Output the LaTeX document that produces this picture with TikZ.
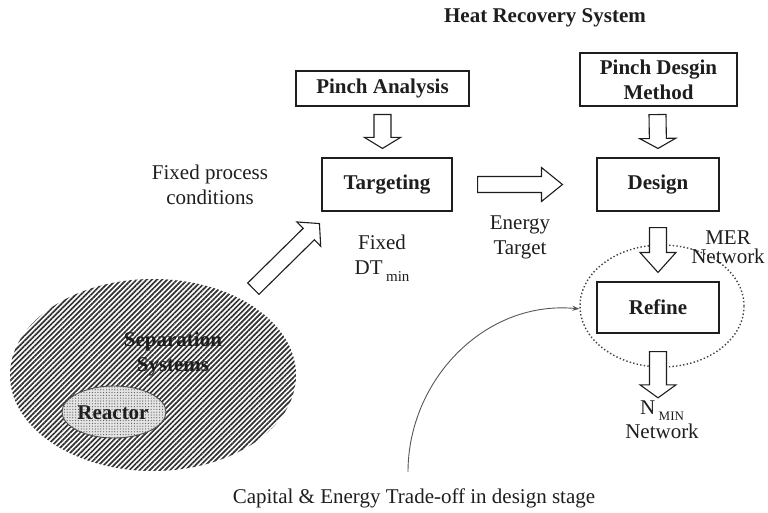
\documentclass[tikz,border=0pt]{standalone}
\usepackage{fontspec}
\setmainfont{Liberation Serif}
\usetikzlibrary{calc,patterns.meta,arrows.meta,shapes.geometric}

\definecolor{ink}{HTML}{1E1E1E}

% Hollow block arrow from tail #1 to tip #2:
% #3 shaft half width, #4 head half width, #5 head length
\newcommand\blockarrow[5]{%
  \path ($(#2)!#5!(#1)$) coordinate (ba@base);
  \draw[blockline]
    ($(#1)!#3!90:(#2)$) -- ($(ba@base)!#3!90:(#2)$) --
    ($(ba@base)!#4!90:(#2)$) -- (#2) --
    ($(ba@base)!#4!-90:(#2)$) -- ($(ba@base)!#3!-90:(#2)$) --
    ($(#1)!#3!-90:(#2)$) -- cycle;
}

\begin{document}
\begin{tikzpicture}[x=1pt,y=-1pt,
  every node/.style={text=ink},
  txt/.style={font=\fontsize{21}{25}\selectfont, align=center, inner sep=0pt},
  boxtxt/.style={font=\fontsize{21}{25}\selectfont\bfseries, align=center, inner sep=0pt},
  box/.style={boxtxt, draw=ink, line width=1.1pt},
  blockline/.style={draw=ink, line width=1.1pt, fill=white, line join=miter},
]
\useasboundingbox (0,0) rectangle (768,513);

% title
\node[boxtxt] (title) at (545,18) {Heat Recovery System};

% separation systems with the reactor inside
\node[ellipse, minimum width=286pt, minimum height=192pt, inner sep=0pt,
      pattern={Lines[angle=45,distance=3.6pt,line width=1.7pt]},
      pattern color=black!80] (sep) at (153,375) {};
\node[ellipse, minimum width=104pt, minimum height=52pt, inner sep=0pt,
      draw=ink!80, line width=0.9pt, fill=gray!22] (reactbg) at (114,412) {};
\node[ellipse, minimum width=104pt, minimum height=52pt, inner sep=0pt,
      pattern={Dots[radius=0.6pt,distance=2.8pt]},
      pattern color=black!65] (react) at (114,412) {};
\node[boxtxt] (septxt) at (173,354) {Separation\\Systems};
\node[boxtxt] (reacttxt) at (113,413) {Reactor};

% boxes
\node[box, minimum width=173pt, minimum height=35pt] (pa) at (382.5,88.5) {Pinch Analysis};
\node[box, minimum width=157pt, minimum height=53pt] (pdm) at (658.5,79.5) {Pinch Desgin\\Method};
\node[box, minimum width=130pt, minimum height=53pt] (tgt) at (387,184.5) {Targeting};
\node[box, minimum width=122pt, minimum height=53pt] (des) at (658,184.5) {Design};
\node[box, minimum width=122pt, minimum height=51pt] (ref) at (658,307.5) {Refine};

% dotted region around the refine step
\node[ellipse, draw=ink!85, line width=1.4pt, dash pattern=on 1.4pt off 2.2pt,
      minimum width=164pt, minimum height=122pt, inner sep=0pt] (merc) at (662,306) {};

% labels
\node[txt] (fpc) at (210,184.5) {Fixed process\\conditions};
\node[txt] (fdt) at (382,254.5) {Fixed\\DT\,\raisebox{-7pt}[0pt][0pt]{\fontsize{15}{15}\selectfont min}};
\node[txt] (et) at (520,237.5) {Energy\\Target};
\node[txt, font=\fontsize{21}{19}\selectfont] (mer) at (728,247) {MER\\Network};
\node[txt, font=\fontsize{21}{24}\selectfont] (nmin) at (662,420)
  {N\,\raisebox{-6pt}[0pt][0pt]{\fontsize{13}{13}\selectfont MIN}\\Network};
\node[txt] (cap) at (414,498) {Capital \& Energy Trade-off in design stage};

% block arrows
\coordinate (a1) at ($(pa.south)+(0,8)$);
\coordinate (b1) at ($(pa.south |- tgt.north)+(0,-9)$);
\blockarrow{a1}{b1}{8.5pt}{18pt}{11pt}

\coordinate (a2) at ($(pdm.south)+(-1,8)$);
\coordinate (b2) at ($(des.north)+(0,-9)$);
\blockarrow{a2}{b2}{8.5pt}{18pt}{10pt}

\coordinate (a3) at ($(tgt.east)+(25,0)$);
\coordinate (b3) at ($(des.west)+(-34,0)$);
\blockarrow{a3}{b3}{8pt}{17pt}{21pt}

\coordinate (a4) at ($(des.south)+(0,16)$);
\coordinate (b4) at ($(ref.north)+(0,-9)$);
\blockarrow{a4}{b4}{8.5pt}{18pt}{20pt}

\coordinate (a5) at ($(ref.south)+(0,18)$);
\coordinate (b5) at ($(ref.south |- nmin.north)+(0,-3)$);
\blockarrow{a5}{b5}{8.5pt}{18pt}{13pt}

\coordinate (a6) at ($(sep.45)+(20,-6)$);
\coordinate (b6) at ($(tgt.south west)+(-2,12)$);
\blockarrow{a6}{b6}{8pt}{17pt}{15pt}

% trade-off connector
\coordinate (cs) at (408,472);
\draw[ink!75, line width=0.9pt, -{Stealth[length=7pt,width=5pt]}]
  (cs) .. controls (408,380) and (485,300) .. (merc.182);
\end{tikzpicture}
\end{document}
